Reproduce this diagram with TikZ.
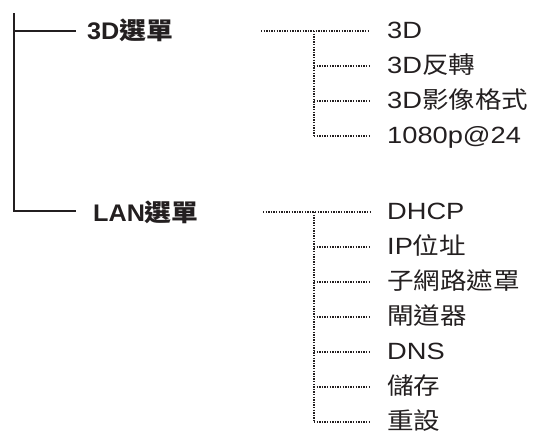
\documentclass[tikz,border=0pt]{standalone}
\usepackage{fontspec}
\newfontfamily\latR{Liberation Sans}[FakeStretch=1.16]
\newfontfamily\cjkR{Noto Sans CJK TC}[FakeStretch=1.13]
\newfontfamily\latB{Liberation Sans}[FakeStretch=1.05]
\newfontfamily\cjkB{Noto Sans CJK TC}[FakeStretch=1.12]
\newcommand{\cR}[1]{{\cjkR #1}}
\newcommand{\cB}[1]{{\cjkB\bfseries #1}}
\definecolor{ink}{HTML}{231F20}
\begin{document}
\begin{tikzpicture}[x=1pt,y=-1pt,
  solidline/.style={draw=ink,line width=1.5pt},
  dotline/.style={draw=ink,line width=1.5pt,dash pattern=on 1.3pt off 1.3pt},
  head/.style={anchor=base west,inner sep=0pt,text=ink,font=\fontsize{24}{28}\selectfont\latB\bfseries},
  leaf/.style={anchor=base west,inner sep=0pt,text=ink,font=\fontsize{23.5}{28}\selectfont\latR}]
\useasboundingbox (0,0) rectangle (533,439);
% main tree
\coordinate (top) at (14,13);
\coordinate (j3d) at (14,31);
\coordinate (jlan) at (14,211);
\coordinate (e3d) at (76,31);
\coordinate (elan) at (76,211);
\node[head] (h3d) at (87,39.5) {3D\cB{選單}};
\node[head] (hlan) at (93,221) {LAN\cB{選單}};
\draw[solidline] (top) -- (jlan) -- (elan);
\draw[solidline] (j3d) -- (e3d);
% 3D submenu
\coordinate (s3d) at (261,31);
\foreach \i/\y/\t in {1/31/{3D},2/66/{3D\cR{反轉}},3/101/{3D\cR{影像格式}},4/136/{1080p@24}}{
  \node[leaf] (a\i) at (387,\y+7.5) {\t};
  \coordinate (ae\i) at (370,\y);
  \coordinate (ab\i) at (314,\y);
}
\draw[dotline] (s3d) -- (ae1);
\draw[dotline] (ab1) -- (ab4);
\foreach \i in {2,3,4}{\draw[dotline] (ab\i) -- (ae\i);}
% LAN submenu
\coordinate (slan) at (263,212);
\foreach \i/\y/\t in {1/212/{DHCP},2/247/{IP\cR{位址}},3/282/{\cR{子網路遮罩}},4/317/{\cR{閘道器}},5/352/{DNS},6/387/{\cR{儲存}},7/422/{\cR{重設}}}{
  \node[leaf] (b\i) at (387,\y+7.5) {\t};
  \coordinate (be\i) at (370,\y);
  \coordinate (bb\i) at (314,\y);
}
\draw[dotline] (slan) -- (be1);
\draw[dotline] (bb1) -- (bb7);
\foreach \i in {2,...,7}{\draw[dotline] (bb\i) -- (be\i);}
\end{tikzpicture}
\end{document}
